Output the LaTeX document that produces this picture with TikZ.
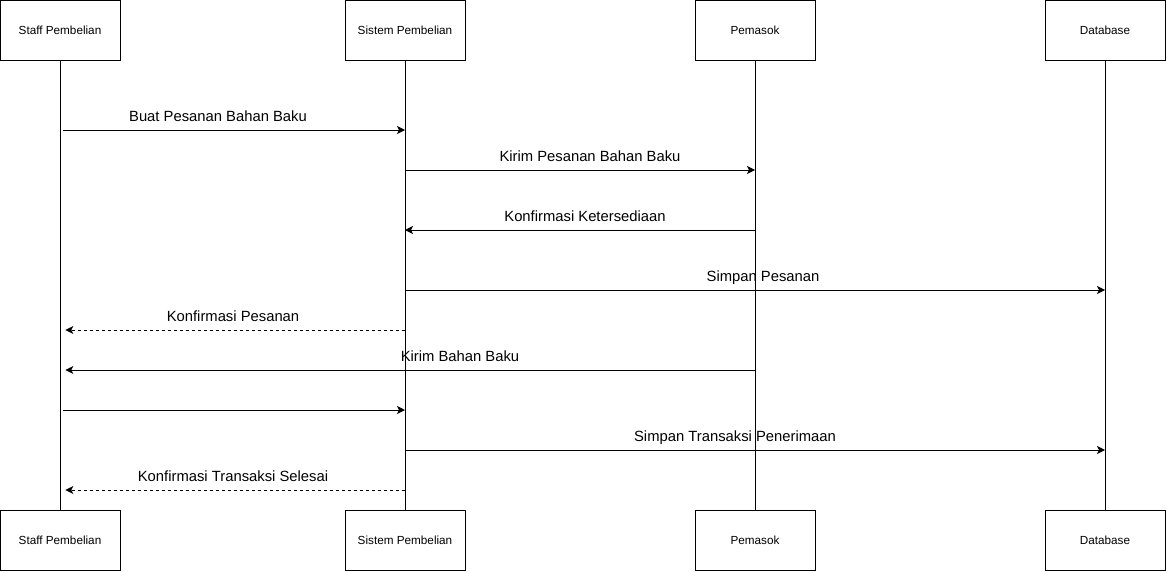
\documentclass[tikz,border=0pt]{standalone}
\usepackage{fontspec}
\setmainfont{Liberation Sans}
\usetikzlibrary{arrows.meta,positioning}

\begin{document}
\begin{tikzpicture}[x=0.75pt,y=-0.75pt,line width=0.75pt,
    actor/.style={draw,fill=white,minimum width=90pt,minimum height=45pt,inner sep=0pt,
      font=\fontsize{8.8}{10}\selectfont},
    msgcall/.style={-{Stealth[length=6pt,width=6pt,inset=1.5pt]}},
    msgout/.style={msgcall,shorten <=2.25pt},
    msgback/.style={msgcall,shorten >=4pt},
    msgreply/.style={msgback,dash pattern=on 2.25pt off 2.25pt},
    msglbl/.style={anchor=base,inner sep=0pt,font=\fontsize{11.1}{13}\selectfont}]
 \useasboundingbox (0,0) rectangle (1166,571);
 % lifelines
 \foreach \n/\x/\t in {staff/60/Staff Pembelian,sistem/405/Sistem Pembelian,
     pemasok/755/Pemasok,db/1105/Database} {
   \node[actor] (\n T) at (\x,30.5) {\t};
   \node[actor] (\n B) at (\x,540.5) {\t};
   \draw (\n T) -- (\n B);
 }
 % messages
 \foreach \y/\f/\g/\s/\lx/\l in {130/staff/sistem/msgout/218/Buat Pesanan Bahan Baku,
     170/sistem/pemasok/msgcall/590/Kirim Pesanan Bahan Baku,
     230/pemasok/sistem/msgcall/585/Konfirmasi Ketersediaan,
     290/sistem/db/msgcall/763/Simpan Pesanan,
     330/sistem/staff/msgreply/233/Konfirmasi Pesanan,
     370/pemasok/staff/msgback/460/Kirim Bahan Baku,
     410/staff/sistem/msgout/233/,
     450/sistem/db/msgcall/735/Simpan Transaksi Penerimaan,
     490/sistem/staff/msgreply/233/Konfirmasi Transaksi Selesai} {
   \coordinate (a\y) at (\f T |- 0,\y);
   \coordinate (b\y) at (\g T |- 0,\y);
   \draw[\s] (a\y) -- (b\y);
   \node[msglbl] (m\y) at (\lx,{\y-8.5}) {\l};
 }
\end{tikzpicture}
\end{document}
